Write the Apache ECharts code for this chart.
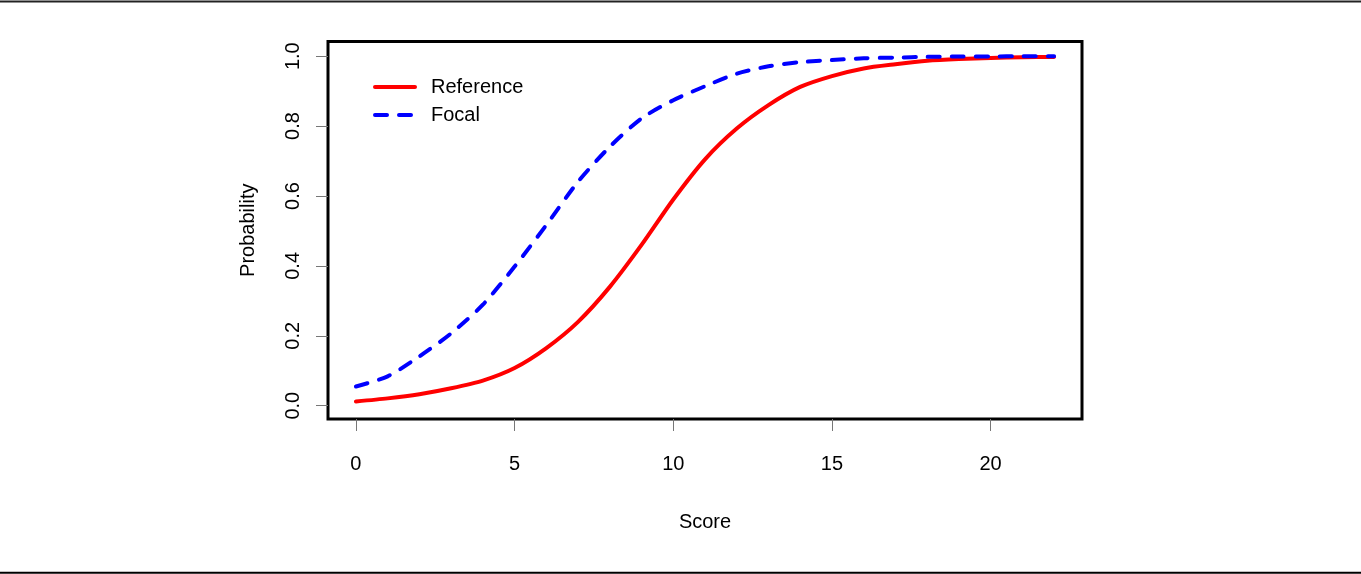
<!DOCTYPE html>
<html>
<head>
<meta charset="utf-8">
<script src="https://cdn.jsdelivr.net/npm/echarts@6/dist/echarts.min.js"></script>
<style>
html,body{margin:0;padding:0;background:#fff;}
#chart{width:1361px;height:574px;}
</style>
</head>
<body>
<div id="chart"></div>
<script>
const scores = [0,1,2,3,4,5,6,7,8,9,10,11,12,13,14,15,16,17,18,19,20,21,22];
const referenceProb = [0.012,0.021,0.033,0.050,0.072,0.108,0.165,0.240,0.340,0.460,0.590,0.705,0.793,0.860,0.912,0.943,0.965,0.977,0.987,0.992,0.995,0.997,0.998];
const focalProb = [0.055,0.084,0.141,0.207,0.289,0.398,0.517,0.641,0.741,0.822,0.874,0.914,0.950,0.971,0.983,0.989,0.994,0.996,0.998,0.999,0.999,1.000,1.000];
const xTicks = [0,5,10,15,20];
const yTicks = [0,0.2,0.4,0.6,0.8,1.0];
const seriesNames = ['Reference','Focal'];
const xTitle = 'Score';
const yTitle = 'Probability';

const FONT = 'Liberation Sans, Arial, sans-serif';
const chart = echarts.init(document.getElementById('chart'), null, {renderer:'canvas'});
const pairs = (ys) => scores.map((s,i)=>[s, ys[i]]);

chart.setOption({
  animation:false,
  backgroundColor:'#fff',
  textStyle:{fontFamily:FONT},
  grid:{left:328, top:41.5, width:754, height:377.5, show:true, borderColor:'#000', borderWidth:3, backgroundColor:'transparent'},
  legend:{
    orient:'vertical', left:373, top:77, padding:0, itemGap:8,
    itemWidth:40, itemHeight:20,
    itemStyle:{opacity:0},
    lineStyle:{width:4},
    textStyle:{fontSize:20, color:'#000', fontFamily:FONT, padding:[0,0,0,11]},
    data:seriesNames
  },
  xAxis:{
    type:'value', min:-0.88, max:22.88,
    name:xTitle, nameLocation:'middle', nameGap:93,
    nameTextStyle:{fontSize:20, color:'#000', fontFamily:FONT},
    axisLine:{show:false, onZero:false},
    splitLine:{show:false},
    axisTick:{show:true, inside:false, length:12, customValues:xTicks, lineStyle:{color:'#777', width:1}},
    axisLabel:{customValues:xTicks, fontSize:20, color:'#000', fontFamily:FONT, margin:35}
  },
  yAxis:{
    type:'value', min:-0.038, max:1.042,
    name:yTitle, nameLocation:'middle', nameGap:70,
    nameTextStyle:{fontSize:20, color:'#000', fontFamily:FONT},
    axisLine:{show:false, onZero:false},
    splitLine:{show:false},
    axisTick:{show:true, inside:false, length:12, customValues:yTicks, lineStyle:{color:'#777', width:1}},
    axisLabel:{customValues:yTicks, rotate:90, fontSize:20, color:'#000', fontFamily:FONT, margin:25,
      formatter:(v)=>Number(v).toFixed(1)}
  },
  series:[
    {name:seriesNames[0], type:'line', data:pairs(referenceProb), showSymbol:false, symbol:'none', smooth:0.25,
     itemStyle:{color:'#ff0000'}, lineStyle:{color:'#ff0000', width:4, cap:'round', join:'round'}},
    {name:seriesNames[1], type:'line', data:pairs(focalProb), showSymbol:false, symbol:'none', smooth:0.25,
     itemStyle:{color:'#0000ff'}, lineStyle:{color:'#0000ff', width:4, type:[12,12], cap:'round', join:'round'}}
  ],
  graphic:[
    {type:'line', shape:{x1:0,y1:1.5,x2:1361,y2:1.5}, style:{stroke:'#222', lineWidth:2}},
    {type:'line', shape:{x1:0,y1:572.7,x2:1361,y2:572.7}, style:{stroke:'#000', lineWidth:2}}
  ]
});
</script>
</body>
</html>
